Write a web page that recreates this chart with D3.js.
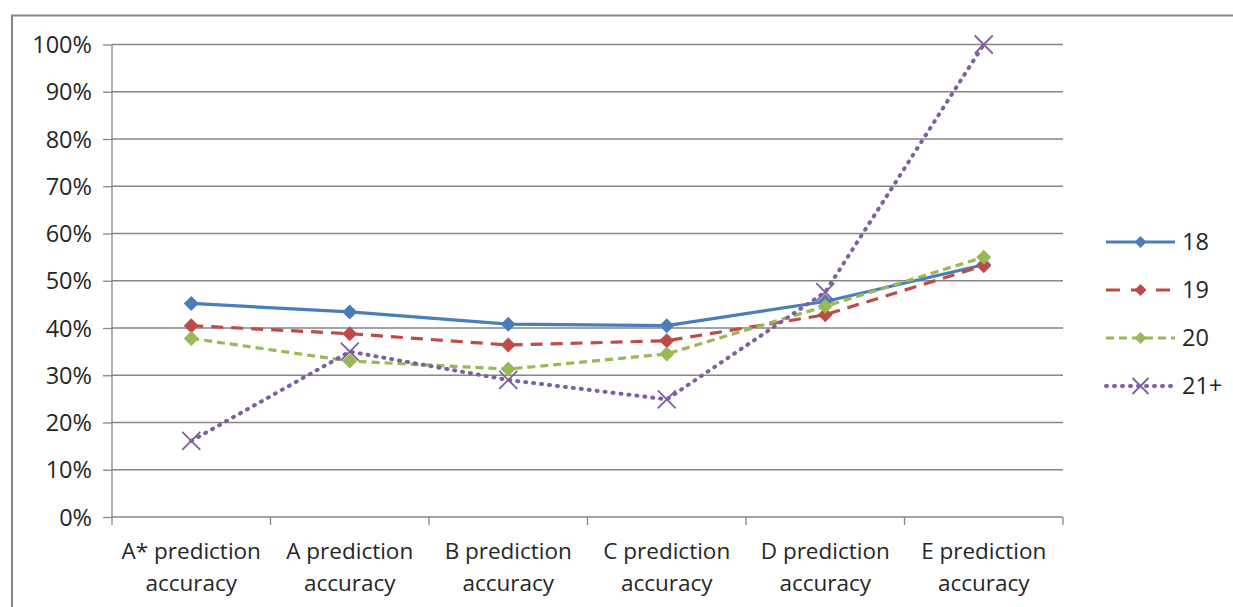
<!DOCTYPE html>
<html><head><meta charset="utf-8">
<script src="https://cdn.jsdelivr.net/npm/d3@7"></script>
<style>body{margin:0;background:#fff}svg{display:block}text{font-family:"Open Sans",Lato,sans-serif;fill:#262626}</style>
</head><body><div id="c"></div>
<script>
const categories = ["A* prediction accuracy","A prediction accuracy","B prediction accuracy","C prediction accuracy","D prediction accuracy","E prediction accuracy"];
const seriesNames = ["18","19","20","21+"];
const s18 = [45.2, 43.4, 40.8, 40.5, 45.6, 53.4];
const s19 = [40.5, 38.8, 36.4, 37.3, 42.8, 53.2];
const s20 = [37.8, 33.0, 31.3, 34.5, 44.6, 55.0];
const s21 = [16.1, 35.0, 29.0, 24.9, 47.6, 100];
const yTicks = [0,10,20,30,40,50,60,70,80,90,100];

const W=1233,H=607;
const colors=["#4a7ebb","#be4b48","#98b954","#7d60a0"];
const dashes=[null,"12,8","8,5","1,7"];
const allSeries=[s18,s19,s20,s21];

const svg=d3.select("#c").append("svg").attr("width",W).attr("height",H);
svg.append("rect").attr("x",12).attr("y",15.5).attr("width",1240).attr("height",620).attr("fill","none").attr("stroke","#868686").attr("stroke-width",2);

const x=d3.scaleBand().domain(categories).range([112,1063]);
const y=d3.scaleLinear().domain([0,100]).range([517,44.5]);

svg.append("g").selectAll("line").data(yTicks.slice(1)).join("line")
 .attr("x1",112).attr("x2",1063).attr("y1",d=>y(d)).attr("y2",d=>y(d))
 .attr("stroke","#868686").attr("stroke-width",1.3);

const ya=svg.append("g").attr("transform","translate(112,0)")
 .call(d3.axisLeft(y).tickValues(yTicks).tickFormat(d=>d+"%").tickSize(9).tickPadding(11));
ya.select(".domain").attr("stroke","#868686").attr("stroke-width",1.3).attr("d","M0,517V44.5");
ya.selectAll(".tick line").attr("stroke","#868686").attr("stroke-width",1.3);
ya.selectAll(".tick text").style("font-size","23.5px").style("font-family","'Open Sans',sans-serif").attr("fill","#262626").attr("dy","0.35em");

const xa=svg.append("g").attr("transform","translate(0,517)")
 .call(d3.axisBottom(x).tickSize(0).tickFormat(""));
xa.select(".domain").attr("stroke","#868686").attr("stroke-width",1.3).attr("d","M112,0H1063");
const bounds=[...categories.map(c=>x(c)),1063];
xa.selectAll(".sep").data(bounds).join("line").attr("class","sep")
 .attr("x1",d=>d).attr("x2",d=>d).attr("y1",0).attr("y2",8).attr("stroke","#868686").attr("stroke-width",1.3);
const lab=svg.append("g").selectAll("text").data(categories).join("text")
 .attr("x",d=>x(d)+x.bandwidth()/2).attr("text-anchor","middle").style("font-size","22.5px");
lab.append("tspan").attr("x",d=>x(d)+x.bandwidth()/2).attr("y",559).text(d=>d.replace(" accuracy",""));
lab.append("tspan").attr("x",d=>x(d)+x.bandwidth()/2).attr("y",591).text("accuracy");

const cx=c=>x(c)+x.bandwidth()/2;
function marker(g,i,px,py,s){
  if(i<3){
    const r=s;
    g.append("path").attr("d",`M${px},${py-r}L${px+r},${py}L${px},${py+r}L${px-r},${py}Z`).attr("fill",colors[i]);
  } else {
    g.append("path").attr("d",`M${px-s},${py-s}L${px+s},${py+s}M${px-s},${py+s}L${px+s},${py-s}`)
     .attr("stroke",colors[i]).attr("stroke-width",1.8).attr("fill","none");
  }
}
allSeries.forEach((vals,i)=>{
  const g=svg.append("g");
  const line=d3.line().x((d,j)=>cx(categories[j])).y(d=>y(d));
  g.append("path").datum(vals).attr("d",line).attr("fill","none").attr("stroke",colors[i])
   .attr("stroke-width",i===3?4:3.2).attr("stroke-dasharray",dashes[i]).attr("stroke-linecap",i===3?"round":"butt");
  vals.forEach((v,j)=>marker(g,i,cx(categories[j]),y(v),i<3?7.5:9));
});

const leg=svg.append("g");
seriesNames.forEach((n,i)=>{
  const ly=242+i*48;
  leg.append("line").attr("x1",1106).attr("x2",1175).attr("y1",ly).attr("y2",ly).attr("stroke",colors[i])
   .attr("stroke-width",i===3?4:3.2).attr("stroke-dasharray",i===1?"14,11":i===2?"8,5":dashes[i]).attr("stroke-linecap",i===3?"round":"butt");
  marker(leg,i,1140.5,ly,i<3?6:8);
  leg.append("text").attr("x",1182).attr("y",ly).attr("dy","0.35em").style("font-size","23.5px").text(n);
});
</script></body></html>
